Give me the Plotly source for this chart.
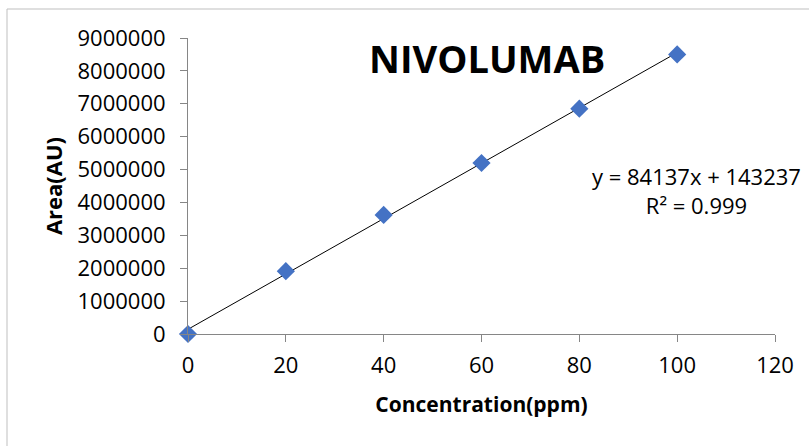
import plotly.graph_objects as go

# ---- data ----
concentration = [0, 20, 40, 60, 80, 100]
area = [0, 1910000, 3620000, 5200000, 6850000, 8500000]
slope = 84137
intercept = 143237
r_squared = 0.999
x_ticks = [0, 20, 40, 60, 80, 100, 120]
y_ticks = [0, 1000000, 2000000, 3000000, 4000000, 5000000, 6000000, 7000000, 8000000, 9000000]
chart_title = "NIVOLUMAB"
x_title = "Concentration(ppm)"
y_title = "Area(AU)"

FONT = "Open Sans, Lato, Roboto, sans-serif"
AXIS_COLOR = "#868686"

W, H = 809, 446
L, R, T, B = 188, 34, 38, 112
pw, ph = W - L - R, H - T - B

def px_x(p):
    return (p - L) / pw

def px_y(p):
    return (H - B - p) / ph

trend_x = [concentration[0], concentration[-1]]
trend_y = [slope * v + intercept for v in trend_x]

fig = go.Figure()
fig.add_trace(go.Scatter(
    x=trend_x, y=trend_y, mode="lines",
    line=dict(color="black", width=1), showlegend=False, hoverinfo="skip",
    cliponaxis=False,
))
fig.add_trace(go.Scatter(
    x=concentration, y=area, mode="markers",
    marker=dict(symbol="diamond", size=14, color="#4472C4", line=dict(width=0)),
    showlegend=False, cliponaxis=False,
))

fig.update_layout(
    width=W, height=H,
    margin=dict(l=L, r=R, t=T, b=B, pad=0),
    paper_bgcolor="white", plot_bgcolor="white",
    font=dict(family=FONT, color="black"),
    xaxis=dict(
        range=[0, 120], tickvals=x_ticks, ticktext=[str(v) for v in x_ticks],
        showgrid=False, zeroline=False, showline=True, linecolor=AXIS_COLOR, linewidth=1,
        ticks="outside", ticklen=7, tickcolor=AXIS_COLOR, tickwidth=1,
        tickfont=dict(size=22, family=FONT, color="black"),
        ticklabelstandoff=5,
        title=dict(text=x_title, font=dict(size=21, family=FONT, color="black", weight="bold"), standoff=18),
        automargin=False,
    ),
    yaxis=dict(
        range=[0, 9000000], tickvals=y_ticks, ticktext=[str(v) for v in y_ticks],
        showgrid=False, zeroline=False, showline=True, linecolor=AXIS_COLOR, linewidth=1,
        ticks="outside", ticklen=7, tickcolor=AXIS_COLOR, tickwidth=1,
        tickfont=dict(size=22, family=FONT, color="black"),
        ticklabelstandoff=10,
        title=dict(text=y_title, font=dict(size=22, family=FONT, color="black", weight="bold"), standoff=8),
        automargin=False,
    ),
    annotations=[
        dict(text=chart_title, xref="paper", yref="paper", x=px_x(487), y=px_y(58),
             xanchor="center", yanchor="middle", showarrow=False,
             font=dict(size=38, family=FONT, color="black", weight="bold")),
        dict(text=f"y = {slope}x + {intercept}<br>R² = {r_squared}", xref="paper", yref="paper",
             x=px_x(696), y=px_y(190), xanchor="center", yanchor="middle", align="center",
             showarrow=False, font=dict(size=22, family=FONT, color="black")),
    ],
    shapes=[
        dict(type="rect", xref="paper", yref="paper",
             x0=px_x(7), x1=px_x(815), y0=px_y(452), y1=px_y(9),
             line=dict(color="#BFBFBF", width=1), fillcolor="rgba(0,0,0,0)", layer="below"),
    ],
)

fig.write_html("out.html", config={"displayModeBar": False},
               post_script="document.body.style.margin='0px';document.body.style.overflow='hidden';")
